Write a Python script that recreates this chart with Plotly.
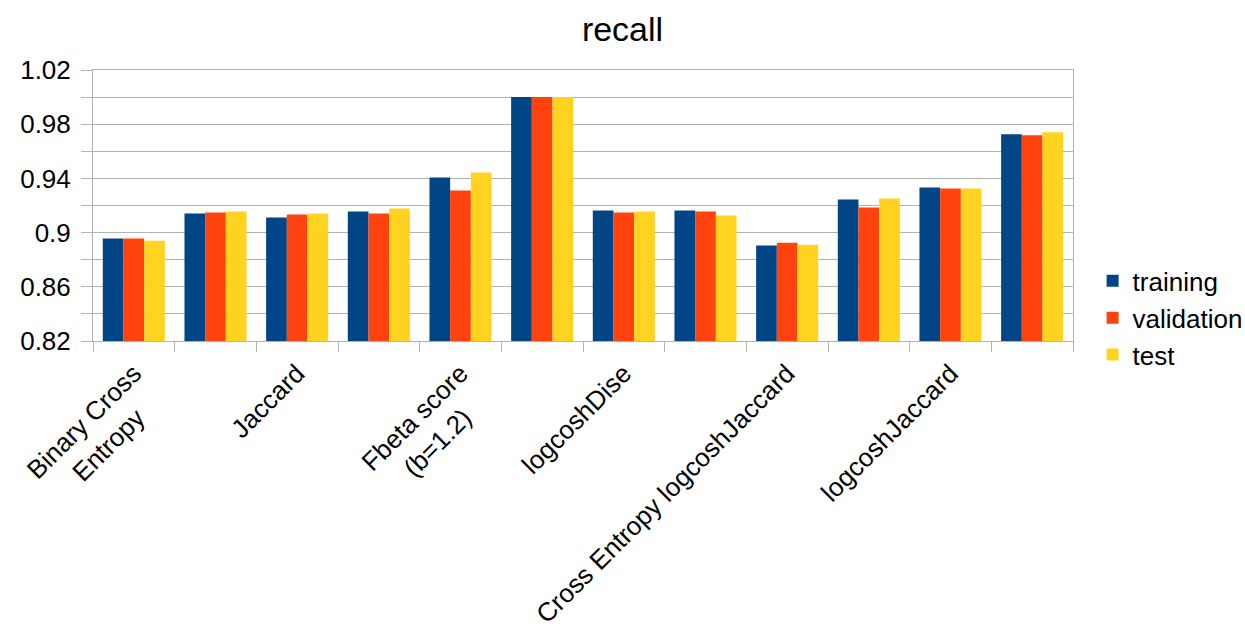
import plotly.graph_objects as go

# Loss functions along the x axis (only every other one carries a label).
# Trailing no-break spaces keep the second line centred under the first.
NBSP = "\u00a0"
tick_labels = [
    "Binary Cross<br>Entropy" + NBSP * 4, "", "Jaccard", "",
    "Fbeta score<br>(b=1.2)" + NBSP * 4, "",
    "logcoshDise", "", "Cross Entropy logcoshJaccard", "", "logcoshJaccard", "",
]
positions = list(range(len(tick_labels)))

training = [0.8956, 0.9141, 0.9111, 0.9156, 0.9407, 1.0, 0.9163, 0.9163, 0.8904, 0.9244, 0.9333, 0.9726]
validation = [0.8956, 0.9148, 0.9133, 0.9141, 0.9311, 1.0, 0.9148, 0.9156, 0.8926, 0.9185, 0.9326, 0.9719]
test = [0.8940, 0.9156, 0.9141, 0.9178, 0.9444, 1.0, 0.9156, 0.9126, 0.8911, 0.9252, 0.9326, 0.9741]

series = [
    ("training", training, "#004586"),
    ("validation", validation, "#ff420e"),
    ("test", test, "#ffd320"),
]

FONT = "Liberation Sans, Arial, sans-serif"
GRID = "#b3b3b3"

fig = go.Figure()
for name, vals, color in series:
    fig.add_trace(go.Bar(x=positions, y=vals, name=name, marker_color=color,
                         marker_line_width=0))

boundaries = [i - 0.5 for i in range(len(tick_labels) + 1)]

fig.update_layout(
    width=1245, height=624,
    margin=dict(l=93, r=172, t=70, b=283, autoexpand=False),
    paper_bgcolor="white", plot_bgcolor="white",
    font=dict(family=FONT, color="black", size=26),
    title=dict(text="recall", x=0.5, xanchor="center", y=1 - 29 / 624, yanchor="middle",
               font=dict(size=34, family=FONT, color="black")),
    barmode="group", bargap=0.24, bargroupgap=0,
    legend=dict(x=1.02, xanchor="left", y=0.085, yanchor="middle",
                font=dict(size=26, family=FONT), bgcolor="rgba(0,0,0,0)"),
    xaxis=dict(
        range=[-0.5, len(tick_labels) - 0.5],
        tickmode="array", tickvals=positions, ticktext=tick_labels,
        tickangle=-45, ticks="", showgrid=False, ticklabelstandoff=6,
        showline=True, linecolor=GRID, linewidth=1, mirror=True,
        tickfont=dict(size=26, family=FONT),
        minor=dict(tickmode="array", tickvals=boundaries, ticks="outside",
                   ticklen=10, tickcolor=GRID, showgrid=False),
        zeroline=False,
    ),
    yaxis=dict(
        range=[0.82, 1.02], tick0=0.82, dtick=0.04, tickformat=".2~f",
        ticks="outside", ticklen=11, tickcolor=GRID, ticklabelstandoff=5,
        showgrid=True, gridcolor=GRID, gridwidth=1,
        showline=True, linecolor=GRID, linewidth=1, mirror=True,
        tickfont=dict(size=26, family=FONT),
        minor=dict(dtick=0.02, ticks="outside", ticklen=11, tickcolor=GRID,
                   showgrid=True, gridcolor=GRID, gridwidth=1),
        zeroline=False,
    ),
)

fig.write_html("out.html")
